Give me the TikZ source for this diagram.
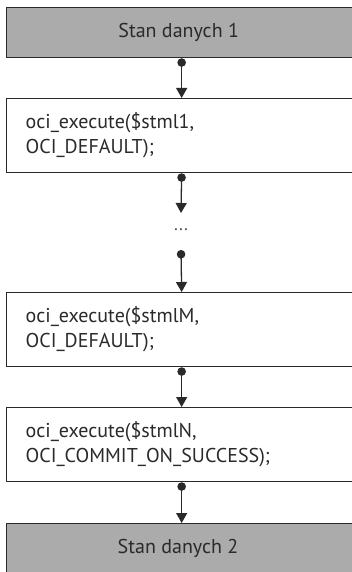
\documentclass[tikz,border=0pt]{standalone}
\usepackage{fontspec}
\setmainfont{PT Sans}
\usetikzlibrary{arrows.meta}
\definecolor{boxgray}{HTML}{ABABAB}
\definecolor{ink}{HTML}{2A2A2A}
\begin{document}
\begin{tikzpicture}[x=1pt,y=-1pt,
  base/.style={draw=ink, line width=1.3pt, rectangle, anchor=north west,
    minimum width=350pt, inner ysep=0pt, text=ink,
    font=\fontsize{20}{25}\selectfont},
  statebox/.style={base, fill=boxgray, minimum height=50pt},
  stepbox/.style={base, fill=white, minimum height=74pt, inner xsep=19pt,
    text width=312pt, align=left},
  conn/.style={draw=ink, line width=1.3pt,
    {Circle[length=8.5pt]}-{Triangle[width=11pt,length=10pt]}}]
\useasboundingbox (0,0) rectangle (352,572);
\clip (0,0) rectangle (352,572);
\fill[white] (0,0) rectangle (352,572);
\node[statebox] (g1) at (6,7) {\hspace*{-6pt}Stan danych 1};
\node[stepbox] (b1) at (6,98) {oci\_execute(\$stml1,\\OCI\_DEFAULT);};
\coordinate (c1) at (181,213);
\node[text=ink!80, font=\fontsize{18}{20}\selectfont] (dots) at (181,230) {...};
\coordinate (c2) at (181,250);
\node[stepbox] (bm) at (6,292) {oci\_execute(\$stmlM,\\OCI\_DEFAULT);};
\node[stepbox] (bn) at (6,407) {oci\_execute(\$stmlN,\\OCI\_COMMIT\_ON\_SUCCESS);};
\node[statebox, minimum height=70pt] (g2) at (6,523) {};
\node[text=ink, font=\fontsize{20}{25}\selectfont] (g2t) at (178,548) {Stan danych 2};
\draw[conn] (g1.south) -- (b1.north);
\draw[conn] (b1.south) -- (c1);
\draw[conn] (c2) -- (bm.north);
\draw[conn] (bm.south) -- (bn.north);
\draw[conn] (bn.south) -- (g2.north);
\end{tikzpicture}
\end{document}
